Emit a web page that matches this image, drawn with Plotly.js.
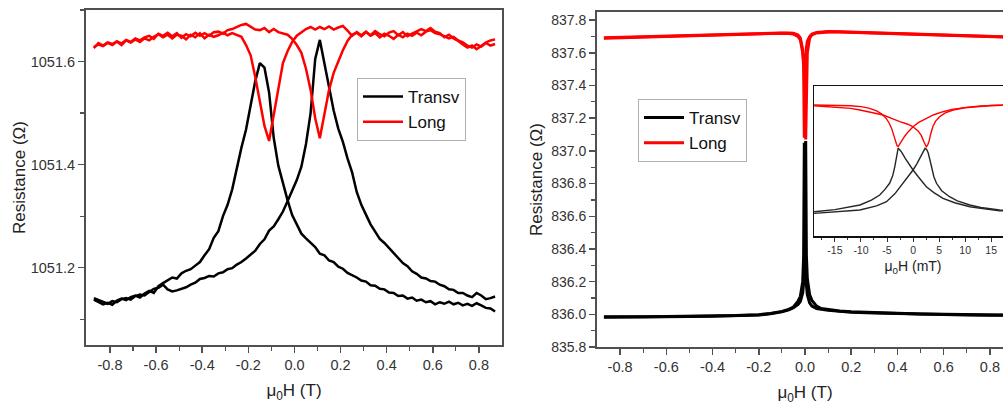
<!DOCTYPE html>
<html>
<head>
<meta charset="utf-8">
<script src="https://cdn.plot.ly/plotly-3.0.1.min.js"></script>
<style>
html,body{margin:0;padding:0;overflow:hidden;background:#fff}
#chart{width:1020px;height:406px}
</style>
</head>
<body>
<div id="chart"></div>
<script>
// ---------------- DATA ----------------
// Left panel: field (T)
const fieldLeft = [-0.87,-0.85,-0.83,-0.81,-0.79,-0.77,-0.75,-0.73,-0.71,-0.69,-0.67,-0.65,-0.63,-0.61,-0.59,-0.57,-0.55,-0.53,-0.51,-0.49,-0.47,-0.45,-0.43,-0.41,-0.39,-0.37,-0.35,-0.33,-0.31,-0.29,-0.27,-0.25,-0.23,-0.21,-0.19,-0.17,-0.15,-0.13,-0.11,-0.09,-0.07,-0.05,-0.03,-0.01,0.01,0.03,0.05,0.07,0.09,0.11,0.13,0.15,0.17,0.19,0.21,0.23,0.25,0.27,0.29,0.31,0.33,0.35,0.37,0.39,0.41,0.43,0.45,0.47,0.49,0.51,0.53,0.55,0.57,0.59,0.61,0.63,0.65,0.67,0.69,0.71,0.73,0.75,0.77,0.79,0.81,0.83,0.85,0.87];
const transvSweepA = [1051.138,1051.134,1051.129,1051.132,1051.128,1051.136,1051.140,1051.137,1051.143,1051.146,1051.142,1051.150,1051.155,1051.151,1051.164,1051.170,1051.175,1051.181,1051.179,1051.189,1051.194,1051.197,1051.204,1051.211,1051.224,1051.236,1051.258,1051.271,1051.300,1051.322,1051.352,1051.396,1051.433,1051.468,1051.513,1051.562,1051.597,1051.588,1051.540,1051.452,1051.398,1051.362,1051.331,1051.302,1051.284,1051.266,1051.257,1051.248,1051.240,1051.227,1051.224,1051.214,1051.211,1051.202,1051.198,1051.190,1051.186,1051.181,1051.175,1051.173,1051.166,1051.165,1051.159,1051.158,1051.152,1051.151,1051.145,1051.146,1051.140,1051.142,1051.136,1051.138,1051.133,1051.135,1051.129,1051.133,1051.130,1051.134,1051.129,1051.132,1051.127,1051.130,1051.126,1051.131,1051.127,1051.122,1051.121,1051.115];
const transvSweepB = [1051.141,1051.137,1051.134,1051.130,1051.135,1051.133,1051.139,1051.141,1051.138,1051.145,1051.148,1051.146,1051.153,1051.159,1051.161,1051.167,1051.158,1051.154,1051.156,1051.159,1051.162,1051.167,1051.171,1051.178,1051.180,1051.184,1051.183,1051.189,1051.191,1051.197,1051.199,1051.206,1051.211,1051.218,1051.225,1051.233,1051.246,1051.255,1051.272,1051.280,1051.294,1051.309,1051.329,1051.350,1051.370,1051.396,1051.440,1051.500,1051.605,1051.642,1051.596,1051.545,1051.505,1051.470,1051.444,1051.412,1051.385,1051.347,1051.322,1051.303,1051.284,1051.270,1051.256,1051.248,1051.238,1051.229,1051.220,1051.209,1051.203,1051.193,1051.188,1051.181,1051.179,1051.174,1051.173,1051.167,1051.164,1051.158,1051.157,1051.151,1051.151,1051.146,1051.143,1051.151,1051.146,1051.139,1051.141,1051.144];
const longSweepA = [1051.626,1051.636,1051.631,1051.637,1051.634,1051.639,1051.632,1051.641,1051.637,1051.643,1051.638,1051.645,1051.641,1051.648,1051.653,1051.647,1051.652,1051.645,1051.652,1051.650,1051.643,1051.652,1051.647,1051.655,1051.645,1051.652,1051.648,1051.651,1051.656,1051.651,1051.655,1051.652,1051.648,1051.632,1051.612,1051.570,1051.520,1051.475,1051.446,1051.496,1051.553,1051.597,1051.620,1051.638,1051.650,1051.657,1051.663,1051.667,1051.662,1051.667,1051.663,1051.668,1051.662,1051.666,1051.669,1051.660,1051.650,1051.657,1051.651,1051.658,1051.650,1051.655,1051.647,1051.654,1051.650,1051.644,1051.652,1051.647,1051.654,1051.650,1051.656,1051.651,1051.658,1051.661,1051.655,1051.653,1051.649,1051.645,1051.648,1051.641,1051.637,1051.631,1051.627,1051.633,1051.629,1051.636,1051.631,1051.634];
const longSweepB = [1051.628,1051.633,1051.630,1051.636,1051.632,1051.639,1051.635,1051.642,1051.638,1051.645,1051.641,1051.647,1051.650,1051.644,1051.654,1051.650,1051.656,1051.649,1051.655,1051.646,1051.653,1051.649,1051.656,1051.650,1051.655,1051.650,1051.657,1051.658,1051.654,1051.661,1051.663,1051.667,1051.671,1051.673,1051.667,1051.662,1051.661,1051.665,1051.657,1051.663,1051.657,1051.655,1051.652,1051.644,1051.632,1051.617,1051.586,1051.545,1051.490,1051.451,1051.500,1051.545,1051.578,1051.601,1051.622,1051.640,1051.652,1051.656,1051.649,1051.657,1051.651,1051.659,1051.653,1051.649,1051.656,1051.659,1051.651,1051.657,1051.649,1051.654,1051.659,1051.663,1051.659,1051.665,1051.658,1051.655,1051.647,1051.652,1051.645,1051.640,1051.633,1051.627,1051.631,1051.624,1051.630,1051.637,1051.641,1051.643];

// Right panel (main): field (T)
const fieldRight = [-0.87,-0.8,-0.7,-0.6,-0.5,-0.4,-0.3,-0.2,-0.15,-0.1,-0.07,-0.05,-0.03,-0.02,-0.01,-0.006,-0.003,-0.001,0,0.001,0.003,0.006,0.01,0.02,0.03,0.05,0.07,0.1,0.15,0.2,0.3,0.4,0.5,0.6,0.7,0.8,0.87];
const transvMainA = [835.985,835.984,835.985,835.987,835.988,835.989,835.992,835.998,836.005,836.018,836.030,836.045,836.080,836.110,836.200,836.350,837.050,836.750,836.550,836.450,836.300,836.180,836.120,836.070,836.050,836.035,836.030,836.025,836.018,836.013,836.008,836.004,836.000,835.998,835.996,835.995,835.994];
const transvMainB = [835.982,835.982,835.983,835.985,835.986,835.988,835.991,835.996,836.003,836.015,836.028,836.040,836.060,836.080,836.130,836.190,836.300,836.450,836.550,836.750,837.060,836.360,836.220,836.120,836.085,836.050,836.035,836.028,836.020,836.015,836.010,836.006,836.002,836.000,835.998,835.996,835.995];
const longMainA = [837.692,837.695,837.700,837.705,837.709,837.713,837.716,837.719,837.721,837.722,837.722,837.720,837.710,837.690,837.620,837.520,837.080,837.300,837.400,837.480,837.560,837.630,837.670,837.700,837.715,837.725,837.728,837.730,837.729,837.727,837.722,837.718,837.714,837.710,837.706,837.701,837.698];
const longMainB = [837.690,837.693,837.698,837.703,837.707,837.711,837.714,837.717,837.719,837.720,837.718,837.715,837.700,837.680,837.600,837.550,837.470,837.400,837.330,837.250,837.070,837.450,837.600,837.690,837.710,837.722,837.726,837.728,837.727,837.725,837.720,837.716,837.712,837.708,837.704,837.699,837.696];

// Inset: field (mT)
const insetLongAField = [-19,-15,-12,-10,-8.5,-7,-6,-5.1,-4.6,-4.1,-3.7,-3.4,-3.1,-2.87,-2.6,-2.2,-1.6,-1,0,1,2.55,4,5.75,7.5,10.2,13,16.6,19];
const insetLongA = [837.734,837.730,837.722,837.708,837.685,837.640,837.590,837.515,837.450,837.360,837.250,837.160,837.095,837.075,837.115,837.170,837.240,837.305,837.390,837.455,837.523,837.580,837.628,837.665,837.697,837.718,837.730,837.734];
const insetLongBField = [-19,-15,-12,-10.2,-7.5,-5.75,-4,-2.55,-1,0,1,1.6,2.1,2.55,2.8,3.1,3.4,3.8,4.3,5.1,6.2,7.7,10,12.1,15,19];
const insetLongB = [837.723,837.705,837.680,837.655,837.610,837.576,837.520,837.470,837.430,837.390,837.320,837.250,837.150,837.075,837.100,837.170,837.280,837.390,837.475,837.549,837.610,837.655,837.690,837.707,837.725,837.734];
const insetTransvAField = [-19,-15,-10.2,-8,-6.4,-5.4,-4.5,-3.9,-3.5,-3.2,-3.0,-2.87,-2.6,-2.2,-1.5,-0.64,0,1,2.55,4,5.75,8,10.9,13,16.6,19];
const insetTransvA = [836.048,836.080,836.154,836.230,836.312,836.400,836.497,836.620,836.759,836.900,836.990,837.049,837.030,836.990,836.890,836.780,836.707,836.600,836.443,836.350,836.259,836.190,836.127,836.100,836.064,836.055];
const insetTransvBField = [-19,-15,-10.2,-7,-5.1,-3.5,-1.9,-1,0,0.7,1.3,1.8,2.1,2.3,2.6,2.9,3.2,3.5,4,4.5,5.5,7,8.5,10.9,13,16.6,19];
const insetTransvB = [836.022,836.045,836.075,836.140,836.206,836.330,836.497,836.600,836.707,836.800,836.891,836.970,837.020,837.049,837.030,836.980,836.880,836.759,836.600,836.497,836.380,836.285,836.220,836.154,836.115,836.075,836.060];

// Tick labels
const fieldTickVals = [-0.8,-0.6,-0.4,-0.2,0,0.2,0.4,0.6,0.8];
const fieldTickText = ["-0.8","-0.6","-0.4","-0.2","0.0","0.2","0.4","0.6","0.8"];
const fieldMinorVals = [-0.7,-0.5,-0.3,-0.1,0.1,0.3,0.5,0.7];
const leftResTickVals = [1051.2,1051.4,1051.6];
const leftResTickText = ["1051.2","1051.4","1051.6"];
const leftResMinorVals = [1051.1,1051.3,1051.5,1051.7];
const rightResTickVals = [835.8,836.0,836.2,836.4,836.6,836.8,837.0,837.2,837.4,837.6,837.8];
const rightResTickText = ["835.8","836.0","836.2","836.4","836.6","836.8","837.0","837.2","837.4","837.6","837.8"];
const rightResMinorVals = [835.9,836.1,836.3,836.5,836.7,836.9,837.1,837.3,837.5,837.7];
const insetTickVals = [-15,-10,-5,0,5,10,15];
const insetTickText = ["-15","-10","-5","0","5","10","15"];
const insetMinorVals = [-17.5,-12.5,-7.5,-2.5,2.5,7.5,12.5,17.5];

const seriesNames = ["Transv","Long"];

// ---------------- LAYOUT / DRAW ----------------
const W = 1020, H = 406;
const FONT = 'Arial, "Liberation Sans", sans-serif';
const BLACK = '#000000', RED = '#ff0000';
const fx = px => px / W;
const fy = py => 1 - py / H;

const traces = [
  {x: fieldLeft, y: transvSweepA, xaxis:'x', yaxis:'y', mode:'lines', line:{color:BLACK,width:2.5}, name:seriesNames[0], legend:'legend', showlegend:true},
  {x: fieldLeft, y: transvSweepB, xaxis:'x', yaxis:'y', mode:'lines', line:{color:BLACK,width:2.5}, name:seriesNames[0], showlegend:false},
  {x: fieldLeft, y: longSweepA, xaxis:'x', yaxis:'y', mode:'lines', line:{color:RED,width:2.5}, name:seriesNames[1], legend:'legend', showlegend:true},
  {x: fieldLeft, y: longSweepB, xaxis:'x', yaxis:'y', mode:'lines', line:{color:RED,width:2.5}, name:seriesNames[1], showlegend:false},

  {x: fieldRight, y: transvMainA, xaxis:'x2', yaxis:'y2', mode:'lines', line:{color:BLACK,width:3}, name:seriesNames[0], legend:'legend2', showlegend:true},
  {x: fieldRight, y: transvMainB, xaxis:'x2', yaxis:'y2', mode:'lines', line:{color:BLACK,width:3}, name:seriesNames[0], showlegend:false},
  {x: fieldRight, y: longMainA, xaxis:'x2', yaxis:'y2', mode:'lines', line:{color:RED,width:3}, name:seriesNames[1], legend:'legend2', showlegend:true},
  {x: fieldRight, y: longMainB, xaxis:'x2', yaxis:'y2', mode:'lines', line:{color:RED,width:3}, name:seriesNames[1], showlegend:false},

  {x: insetLongAField, y: insetLongA, xaxis:'x3', yaxis:'y3', mode:'lines', line:{color:RED,width:1.4}, showlegend:false},
  {x: insetLongBField, y: insetLongB, xaxis:'x3', yaxis:'y3', mode:'lines', line:{color:RED,width:1.4}, showlegend:false},
  {x: insetTransvAField, y: insetTransvA, xaxis:'x3', yaxis:'y3', mode:'lines', line:{color:'#262626',width:1.4}, showlegend:false},
  {x: insetTransvBField, y: insetTransvB, xaxis:'x3', yaxis:'y3', mode:'lines', line:{color:'#262626',width:1.4}, showlegend:false}
];

const axisLine = {showline:true, linecolor:'#505050', linewidth:2, showgrid:false, zeroline:false};
const tickStyle = {ticks:'outside', ticklen:6, tickwidth:1.5, tickcolor:'#505050'};

const layout = {
  width: W, height: H,
  margin: {l:0, r:0, t:0, b:0},
  paper_bgcolor:'#ffffff', plot_bgcolor:'rgba(0,0,0,0)',
  font: {family: FONT, color:'#222', size:14},
  showlegend: true,
  xaxis: Object.assign({}, axisLine, tickStyle, {
    domain:[fx(86), fx(502)], anchor:'y', range:[-0.904, 0.9], mirror:true,
    tickmode:'array', tickvals: fieldTickVals, ticktext: fieldTickText,
    minor:{tickvals: fieldMinorVals, ticks:'outside', ticklen:4, tickwidth:1.2, tickcolor:'#505050'},
    tickfont:{size:14.5, color:'#333'},
    title:{text:'μ<sub>0</sub>H (T)', font:{size:17, color:'#222'}, standoff:12}
  }),
  yaxis: Object.assign({}, axisLine, tickStyle, {
    domain:[fy(345), fy(10)], anchor:'x', range:[1051.05, 1051.70], mirror:true,
    tickmode:'array', tickvals: leftResTickVals, ticktext: leftResTickText,
    minor:{tickvals: leftResMinorVals, ticks:'outside', ticklen:4, tickwidth:1.2, tickcolor:'#505050'},
    tickfont:{size:14.5, color:'#333'},
    title:{text:'Resistance (Ω)', font:{size:17, color:'#222'}, standoff:1}
  }),
  xaxis2: Object.assign({}, axisLine, tickStyle, {
    domain:[fx(597), fx(1013)], anchor:'y2', range:[-0.9, 0.9], mirror:true,
    tickmode:'array', tickvals: fieldTickVals, ticktext: fieldTickText,
    minor:{tickvals: fieldMinorVals, ticks:'outside', ticklen:4, tickwidth:1.2, tickcolor:'#505050'},
    tickfont:{size:14.5, color:'#333'},
    title:{text:'μ<sub>0</sub>H (T)', font:{size:17, color:'#222'}, standoff:12}
  }),
  yaxis2: Object.assign({}, axisLine, tickStyle, {
    domain:[fy(347), fy(12)], anchor:'x2', range:[835.8, 837.85], mirror:true,
    tickmode:'array', tickvals: rightResTickVals, ticktext: rightResTickText,
    minor:{tickvals: rightResMinorVals, ticks:'outside', ticklen:4, tickwidth:1.2, tickcolor:'#505050'},
    tickfont:{size:14, color:'#333'},
    title:{text:'Resistance (Ω)', font:{size:17, color:'#222'}, standoff:4}
  }),
  xaxis3: {
    domain:[fx(814), fx(1012)], anchor:'y3', range:[-19.02, 19],
    showline:true, linecolor:'#111', linewidth:1.5, mirror:true, showgrid:false, zeroline:false,
    tickmode:'array', tickvals: insetTickVals, ticktext: insetTickText,
    ticks:'outside', ticklen:4, tickwidth:1, tickcolor:'#333',
    minor:{tickvals: insetMinorVals, ticks:'outside', ticklen:2.5, tickwidth:1, tickcolor:'#333'},
    tickfont:{size:10.5, color:'#333'},
    title:{text:'μ<sub>0</sub>H (mT)', font:{size:14, color:'#222'}, standoff:6}
  },
  yaxis3: {
    domain:[fy(236), fy(86)], anchor:'x3', range:[835.664, 838.034],
    showline:true, linecolor:'#111', linewidth:1.5, mirror:true, showgrid:false, zeroline:false,
    showticklabels:false, ticks:''
  },
  legend: {
    x: fx(357), y: fy(78), xanchor:'left', yanchor:'top',
    bgcolor:'#ffffff', bordercolor:'#b0b0b0', borderwidth:1, itemwidth:40,
    font:{size:17, color:'#111', family: FONT}, traceorder:'normal', tracegroupgap:0
  },
  legend2: {
    x: fx(638), y: fy(99), xanchor:'left', yanchor:'top',
    bgcolor:'#ffffff', bordercolor:'#b0b0b0', borderwidth:1, itemwidth:40,
    font:{size:17, color:'#111', family: FONT}, traceorder:'normal', tracegroupgap:0
  }
};

Plotly.newPlot('chart', traces, layout, {staticPlot:true, displayModeBar:false});
</script>
</body>
</html>
